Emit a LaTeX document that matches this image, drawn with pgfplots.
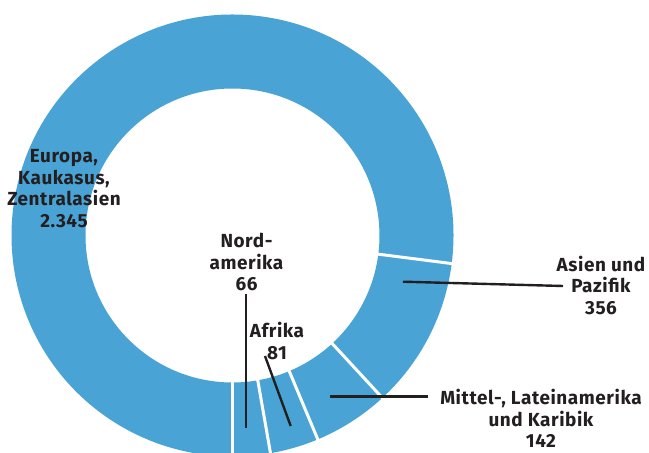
\documentclass[border=0pt]{standalone}
\usepackage{pgfplots}
\pgfplotsset{compat=1.18}
\usepackage{pgfplotstable}
\usepackage{fontspec}
\setmainfont{Fira Sans}
\newfontfamily\lblfont{Fira Sans}[LetterSpace=3]
\definecolor{donut}{RGB}{74,163,213}
\definecolor{ink}{RGB}{35,31,32}

% value = printed value, span = angle of the ring segment as drawn (degrees)
\pgfplotstableread{
region value span
Nordamerika 66 9.9
Afrika 81 12.8
Mittel 142 20.0
Asien 356 40.0
Europa 2345 277.3
}\datatable

\def\cx{232.5}\def\cy{217.5}
\def\Ro{221}\def\Ri{147}
\def\RoS{226}\def\RiS{143}

\tikzset{lbl/.style={font=\lblfont\fontsize{19}{21.5}\selectfont\bfseries, text=ink, align=center, inner sep=0pt}}

\newcommand\ring[2]{%
  \fill[donut] ([shift={(#1:\Ro bp)}]axis cs:\cx,\cy)
    arc[start angle=#1,end angle=#2,radius=\Ro bp]
    -- ([shift={(#2:\Ri bp)}]axis cs:\cx,\cy)
    arc[start angle=#2,end angle=#1,radius=\Ri bp] -- cycle;}
\newcommand\sep[1]{%
  \draw[white,line width=3bp] ([shift={(#1:\RiS bp)}]axis cs:\cx,\cy)
    -- ([shift={(#1:\RoS bp)}]axis cs:\cx,\cy);}

\begin{document}
\begin{tikzpicture}
\pgfmathsetmacro\aO{-90}
\pgfplotstablegetelem{0}{span}\of\datatable \pgfmathsetmacro\aA{\aO+\pgfplotsretval}
\pgfplotstablegetelem{1}{span}\of\datatable \pgfmathsetmacro\aB{\aA+\pgfplotsretval}
\pgfplotstablegetelem{2}{span}\of\datatable \pgfmathsetmacro\aC{\aB+\pgfplotsretval}
\pgfplotstablegetelem{3}{span}\of\datatable \pgfmathsetmacro\aD{\aC+\pgfplotsretval}
\pgfplotstablegetelem{4}{span}\of\datatable \pgfmathsetmacro\aE{\aD+\pgfplotsretval}
\begin{axis}[x=1bp,y=1bp,xmin=0,xmax=649,ymin=0,ymax=453,hide axis,clip=false]
\ring{\aO}{\aA}
\ring{\aA}{\aB}
\ring{\aB}{\aC}
\ring{\aC}{\aD}
\ring{\aD}{\aE}
\sep{\aO}\sep{\aA}\sep{\aB}\sep{\aC}\sep{\aD}
% leader lines
\draw[ink,line width=2.4bp] (axis cs:245.7,159) -- (axis cs:245.7,25);
\draw[ink,line width=2.4bp] (axis cs:265,97) -- (axis cs:290.7,27);
\draw[ink,line width=2.4bp] (axis cs:403,171.3) -- (axis cs:563,167);
\draw[ink,line width=2.4bp] (axis cs:330,56.3) -- (axis cs:428.3,56.3);
% labels
\node[lbl] at (axis cs:64,264.5) {Europa,\\Kaukasus,\\Zentralasien\\2.345};
\node[lbl] at (axis cs:246.5,190.7) {Nord-\\amerika\\66};
\node[lbl] at (axis cs:277,112.2) {Afrika\\81};
\node[lbl] at (axis cs:601,167.8) {Asien und\\Pazifik\\356};
\node[lbl] at (axis cs:541,34.3) {Mittel-, Lateinamerika\\und Karibik\\142};
\end{axis}
\pgfresetboundingbox
\path (0,0) rectangle (649bp,453bp);
\end{tikzpicture}
\end{document}
